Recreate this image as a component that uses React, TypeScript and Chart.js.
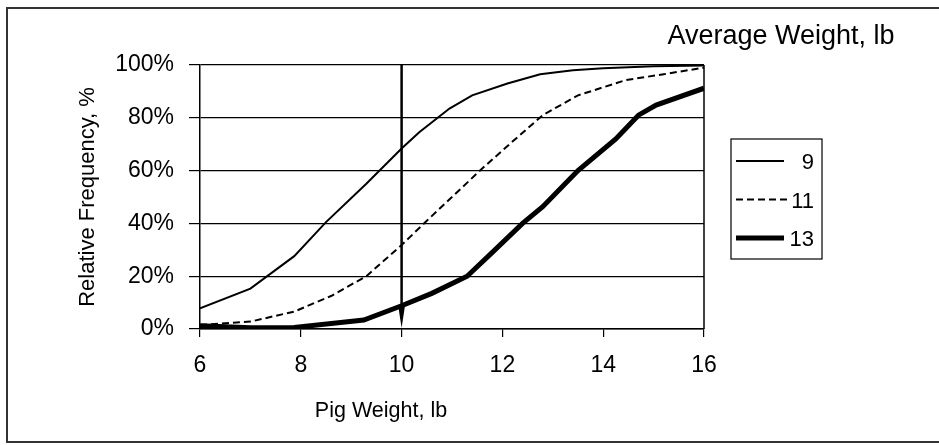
import React, { useEffect, useRef } from "react";
import { Chart, registerables } from "chart.js";

Chart.register(...registerables);

// ---- data ----
const seriesNames = ["9", "11", "13"];
const x9 = [6, 7, 7.87, 8.5, 9.3, 10, 10.35, 10.95, 11.4, 12.1, 12.75, 13.4, 14, 15, 16];
const y9 = [7.8, 15.3, 27.6, 40.5, 55, 68.4, 74.5, 83.5, 88.5, 93, 96.5, 98, 98.8, 99.5, 99.8];
const x11 = [6, 7, 7.87, 8.6, 9.3, 10, 10.5, 11, 11.6, 12.2, 12.8, 13.5, 14.45, 15.2, 16];
const y11 = [1.5, 2.8, 6.6, 12.5, 20, 31.8, 41, 50, 60.8, 71, 81, 88.5, 94.3, 96.5, 99];
const x13 = [6, 7, 7.87, 9.25, 10, 10.6, 11.3, 11.8, 12.4, 12.8, 13.5, 14.25, 14.7, 15.05, 16];
const y13 = [1.2, 0.5, 0.6, 3.4, 8.8, 13.5, 20, 29, 40, 46.3, 60, 72, 81, 84.8, 91.2];
const arrowX = 10;
const xTicks = [6, 8, 10, 12, 14, 16];
const yTicks = [0, 20, 40, 60, 80, 100];
const legendTitle = "Average Weight, lb";
const xTitle = "Pig Weight, lb";
const yTitle = "Relative Frequency, %";

const FONT = "'Liberation Sans', Arial, sans-serif";

const toPoints = (xs: number[], ys: number[]) => xs.map((x, i) => ({ x, y: ys[i] }));

const overlayPlugin = {
  id: "overlay",
  afterDatasetsDraw(chart: any) {
    const { ctx, chartArea, scales } = chart;
    ctx.save();
    // right border of plot area
    ctx.strokeStyle = "#000";
    ctx.lineWidth = 1.5;
    ctx.beginPath();
    ctx.moveTo(chartArea.right, chartArea.top);
    ctx.lineTo(chartArea.right, chartArea.bottom);
    ctx.stroke();

    // arrow
    const ax = scales.x.getPixelForValue(arrowX);
    const yTop = scales.y.getPixelForValue(100);
    const yBot = scales.y.getPixelForValue(0);
    ctx.lineWidth = 2.5;
    ctx.beginPath();
    ctx.moveTo(ax, yTop);
    ctx.lineTo(ax, yBot - 10);
    ctx.stroke();
    ctx.fillStyle = "#000";
    ctx.beginPath();
    ctx.moveTo(ax - 3.5, yBot - 24);
    ctx.lineTo(ax + 3.5, yBot - 24);
    ctx.lineTo(ax, yBot - 1);
    ctx.closePath();
    ctx.fill();

    // x axis title
    ctx.font = `21.5px ${FONT}`;
    ctx.textAlign = "center";
    ctx.textBaseline = "middle";
    ctx.fillText(xTitle, chartArea.left + 181, chartArea.bottom + 82);

    // legend title
    ctx.font = `27px ${FONT}`;
    ctx.textAlign = "center";
    ctx.textBaseline = "middle";
    ctx.fillText(legendTitle, chartArea.right + 77, chartArea.top - 28);

    // legend box
    const bx = chartArea.right + 27;
    const by = chartArea.top + 74;
    const bw = 91;
    const bh = 120;
    ctx.lineWidth = 1.2;
    ctx.strokeStyle = "#000";
    ctx.strokeRect(bx, by, bw, bh);
    chart.data.datasets.forEach((ds: any, i: number) => {
      const ly = by + 22 + i * 38.5;
      ctx.save();
      ctx.strokeStyle = ds.borderColor;
      ctx.lineWidth = ds.borderWidth;
      ctx.setLineDash(ds.borderDash || []);
      ctx.beginPath();
      ctx.moveTo(bx + 5, ly);
      ctx.lineTo(bx + (ds.borderDash && ds.borderDash.length ? 56 : 53), ly);
      ctx.stroke();
      ctx.restore();
      ctx.font = `22px ${FONT}`;
      ctx.textAlign = "right";
      ctx.textBaseline = "middle";
      ctx.fillStyle = "#000";
      ctx.fillText(ds.label, bx + 83, ly + 2);
    });
    ctx.restore();
  },
};

export default function App() {
  const ref = useRef<HTMLCanvasElement>(null);
  useEffect(() => {
    if (!ref.current) return;
    const chart = new Chart(ref.current, {
      type: "line",
      data: {
        datasets: [
          {
            label: seriesNames[0],
            data: toPoints(x9, y9),
            borderColor: "#000",
            borderWidth: 2,
            pointRadius: 0,
            tension: 0,
          },
          {
            label: seriesNames[1],
            data: toPoints(x11, y11),
            borderColor: "#000",
            borderWidth: 2,
            borderDash: [7, 4],
            pointRadius: 0,
            tension: 0,
          },
          {
            label: seriesNames[2],
            data: toPoints(x13, y13),
            borderColor: "#000",
            borderWidth: 5,
            pointRadius: 0,
            tension: 0,
          },
        ],
      },
      options: {
        responsive: false,
        animation: false,
        devicePixelRatio: 1,
        layout: { padding: { left: 75, right: 235, top: 65, bottom: 22 } },
        plugins: { legend: { display: false }, tooltip: { enabled: false } },
        scales: {
          x: {
            type: "linear",
            min: 6,
            max: 16,
            afterBuildTicks: (s: any) => {
              s.ticks = xTicks.map((v) => ({ value: v }));
            },
            afterFit: (s: any) => {
              s.height = 94;
            },
            ticks: {
              color: "#000",
              font: { family: FONT, size: 23 },
              padding: 15,
              maxRotation: 0,
            },
            grid: {
              drawOnChartArea: false,
              color: "#000",
              lineWidth: 1.2,
              tickLength: 8,
            },
            border: { color: "#000", width: 1.5 },
            title: { display: false },
          },
          y: {
            type: "linear",
            min: 0,
            max: 100,
            afterBuildTicks: (s: any) => {
              s.ticks = yTicks.map((v) => ({ value: v }));
            },
            afterFit: (s: any) => {
              s.width = 125;
            },
            ticks: {
              color: "#000",
              font: { family: FONT, size: 23 },
              padding: 15,
              callback: (v: any) => `${v}%`,
            },
            grid: {
              color: "#000",
              lineWidth: 1.2,
              tickLength: 11,
            },
            border: { color: "#000", width: 1.5 },
            title: {
              display: true,
              text: yTitle,
              color: "#000",
              font: { family: FONT, size: 22 },
              padding: 0,
            },
          },
        },
      },
      plugins: [overlayPlugin],
    });
    return () => chart.destroy();
  }, []);

  return (
    <div style={{ position: "fixed", left: 0, top: 0, width: 939, height: 445, background: "#fff", overflow: "hidden" }}>
      <div
        style={{
          position: "absolute",
          left: 6,
          top: 7,
          width: 960,
          height: 436,
          boxSizing: "border-box",
          borderTop: "2px solid #333",
          borderLeft: "2px solid #333",
          borderBottom: "2px solid #333",
          borderRight: "none",
        }}
      />
      <canvas ref={ref} width={939} height={445} style={{ position: "absolute", left: 0, top: 0 }} />
    </div>
  );
}
